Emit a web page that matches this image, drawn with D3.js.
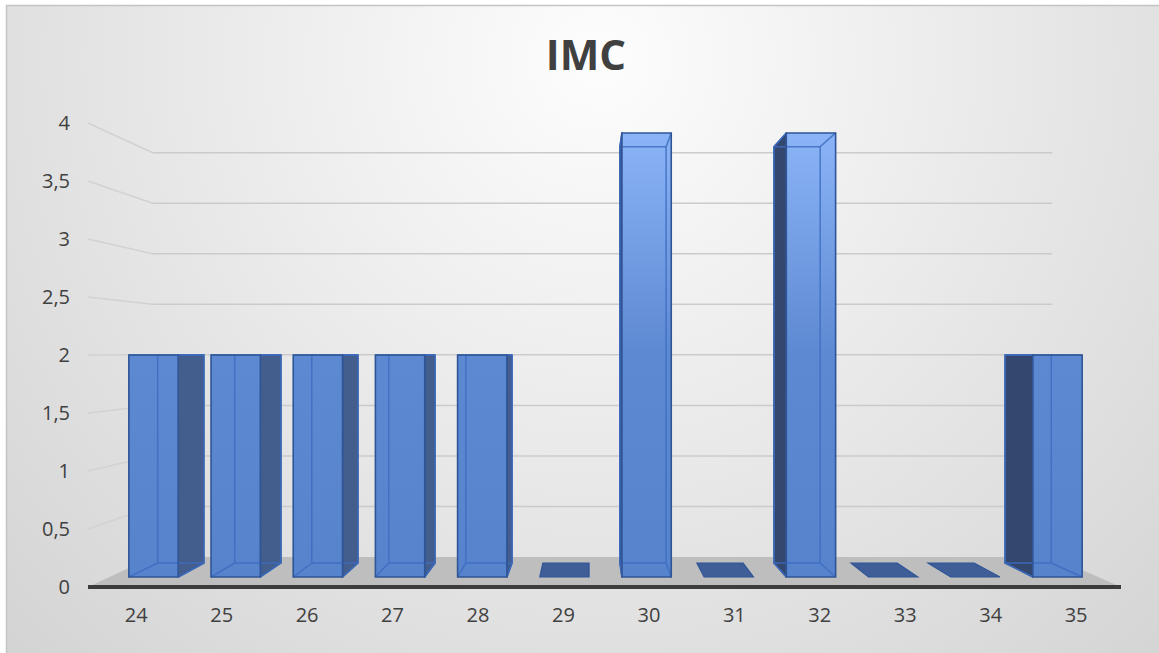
<!DOCTYPE html>
<html>
<head>
<meta charset="utf-8">
<script src="https://cdn.jsdelivr.net/npm/d3@7"></script>
<style>
  html, body { margin: 0; padding: 0; background: #ffffff; }
  svg { display: block; }
  text { font-family: "Open Sans", "Noto Sans", sans-serif; }
</style>
</head>
<body>
<svg id="chart" width="1159" height="653"></svg>
<script>
// IMC distribution – 3D column chart
const categories = ["24", "25", "26", "27", "28", "29", "30", "31", "32", "33", "34", "35"];
const values     = [2, 2, 2, 2, 2, 0, 4, 0, 4, 0, 0, 2];
const yTicks     = [0, 0.5, 1, 1.5, 2, 2.5, 3, 3.5, 4];
const chartTitle = "IMC";

const W = 1159, H = 653;
const svg = d3.select("#chart");

// perspective: vanishing point and depth factors (1 = front plane)
const vp = { x: 589, y: 354 };
const depth = { floor: 1, barFront: 0.957, barBack: 0.897, wall: 0.871, label: 0.995 };
const proj = (X, Y, k) => [vp.x + (X - vp.x) * k, vp.y + (Y - vp.y) * k];

// floor extent and category slots on the front plane
const x = d3.scaleBand().domain(categories).range([88, 1121]).padding(0);
const xb = x.copy().range([91, 1121.5]);
const y = d3.scaleLinear().domain([0, 4]).range([587, 123]);
const barW = xb.bandwidth() * 0.6;

const fmt = d3.formatLocale({ decimal: ",", thousands: " ", grouping: [3], currency: ["", ""] }).format("~g");

// ---------- background ----------
const defs = svg.append("defs");
const bg = defs.append("radialGradient").attr("id", "bg")
  .attr("gradientUnits", "userSpaceOnUse")
  .attr("cx", 600).attr("cy", 60).attr("r", 850);
bg.append("stop").attr("offset", 0).attr("stop-color", "#fdfdfd");
bg.append("stop").attr("offset", 1).attr("stop-color", "#d3d3d3");

const barGrad = defs.append("linearGradient").attr("id", "barFill")
  .attr("gradientUnits", "userSpaceOnUse")
  .attr("x1", 0).attr("x2", 0).attr("y1", 130).attr("y2", 580);
barGrad.append("stop").attr("offset", 0).attr("stop-color", "#8cb5f7");
barGrad.append("stop").attr("offset", 0.5).attr("stop-color", "#5d89d2");
barGrad.append("stop").attr("offset", 1).attr("stop-color", "#5783cc");

svg.append("rect").attr("x", 6.5).attr("y", 5.5)
  .attr("width", W).attr("height", H)
  .attr("fill", "url(#bg)").attr("stroke", "#c4c4c4").attr("stroke-width", 1.5);

// ---------- title ----------
svg.append("text").attr("x", 586).attr("y", 70)
  .attr("text-anchor", "middle").attr("font-size", 42).attr("font-weight", 700)
  .attr("fill", "#404040").text(chartTitle);

// ---------- walls & gridlines ----------
const X0 = x.range()[0], X1 = x.range()[1];
const grid = svg.append("g").attr("fill", "none").attr("stroke-width", 1.5);
yTicks.filter(v => v > 0).forEach(v => {
  const a = proj(X0, y(v), depth.floor), b = proj(X0, y(v), depth.wall), c = proj(X1, y(v), depth.wall);
  grid.append("line").attr("x1", a[0]).attr("y1", a[1]).attr("x2", b[0]).attr("y2", b[1])
    .attr("stroke", "#d2d2d2");
  grid.append("line").attr("x1", b[0]).attr("y1", b[1]).attr("x2", c[0]).attr("y2", c[1])
    .attr("stroke", "#cbcbcb");
});

// floor
const fl = [proj(X0, y(0), depth.floor), proj(X1, y(0), depth.floor),
            proj(X1, y(0), depth.wall), proj(X0, y(0), depth.wall)];
svg.append("polygon").attr("points", fl.map(p => p.join(",")).join(" "))
  .attr("fill", "#bebebe");

// ---------- bars ----------
const bars = svg.append("g");
categories.forEach((c, i) => {
  const v = values[i];
  const L = xb(c) + (xb.bandwidth() - barW) / 2, R = L + barW;
  const T = y(v), B = y(0);
  const kf = depth.barFront, kb = depth.barBack;
  const fTL = proj(L, T, kf), fTR = proj(R, T, kf), fBL = proj(L, B, kf), fBR = proj(R, B, kf);
  const bTL = proj(L, T, kb), bTR = proj(R, T, kb), bBL = proj(L, B, kb), bBR = proj(R, B, kb);
  const pts = arr => arr.map(p => p.join(",")).join(" ");
  const g = bars.append("g");

  if (v === 0) {
    g.append("polygon").attr("points", pts([fBL, fBR, bBR, bBL]))
      .attr("fill", "#3f5e98").attr("stroke", "#2f5597").attr("stroke-width", 1.2);
    return;
  }
  const centre = (L + R) / 2;
  const rightSide = centre < vp.x;
  // side face
  g.append("polygon")
    .attr("points", rightSide ? pts([fTR, bTR, bBR, fBR]) : pts([fTL, bTL, bBL, fBL]))
    .attr("fill", rightSide ? "#435e8d" : "#33476f")
    .attr("stroke", "#2f5597").attr("stroke-width", 1.5).attr("stroke-linejoin", "round");
  // front face
  g.append("polygon").attr("points", pts([fTL, fTR, fBR, fBL]))
    .attr("fill", "url(#barFill)");
  // hidden edges seen through the translucent front
  const hidden = g.append("g").attr("stroke", "#3e6dc2").attr("stroke-width", 1.5)
    .attr("fill", "none").attr("opacity", 0.85);
  hidden.append("polygon").attr("points", pts([bTL, bTR, bBR, bBL]));
  [[fTL, bTL], [fTR, bTR], [fBL, bBL], [fBR, bBR]].forEach(([p, q]) =>
    hidden.append("line").attr("x1", p[0]).attr("y1", p[1]).attr("x2", q[0]).attr("y2", q[1]));
  // front outline
  g.append("polygon").attr("points", pts([fTL, fTR, fBR, fBL]))
    .attr("fill", "none").attr("stroke", "#2f5597").attr("stroke-width", 1.6);
});

// front edge of the floor
svg.append("line").attr("x1", X0).attr("x2", X1).attr("y1", y(0)).attr("y2", y(0))
  .attr("stroke", "#3c3c3c").attr("stroke-width", 4);

// ---------- axes ----------
const yAxis = svg.append("g").attr("transform", `translate(${X0},0)`)
  .call(d3.axisLeft(y).tickValues(yTicks).tickFormat(fmt).tickSize(0).tickPadding(18));
yAxis.select(".domain").remove();

const xl = xb.copy().range(xb.range().map(X => proj(X, 0, depth.label)[0]));
const xAxis = svg.append("g").attr("transform", `translate(0,${y(0)})`)
  .call(d3.axisBottom(xl).tickSize(0).tickPadding(21));
xAxis.select(".domain").remove();

svg.selectAll(".tick text").attr("font-size", 20).attr("fill", "#404040")
  .attr("font-family", "'Open Sans', 'Noto Sans', sans-serif");
</script>
</body>
</html>
